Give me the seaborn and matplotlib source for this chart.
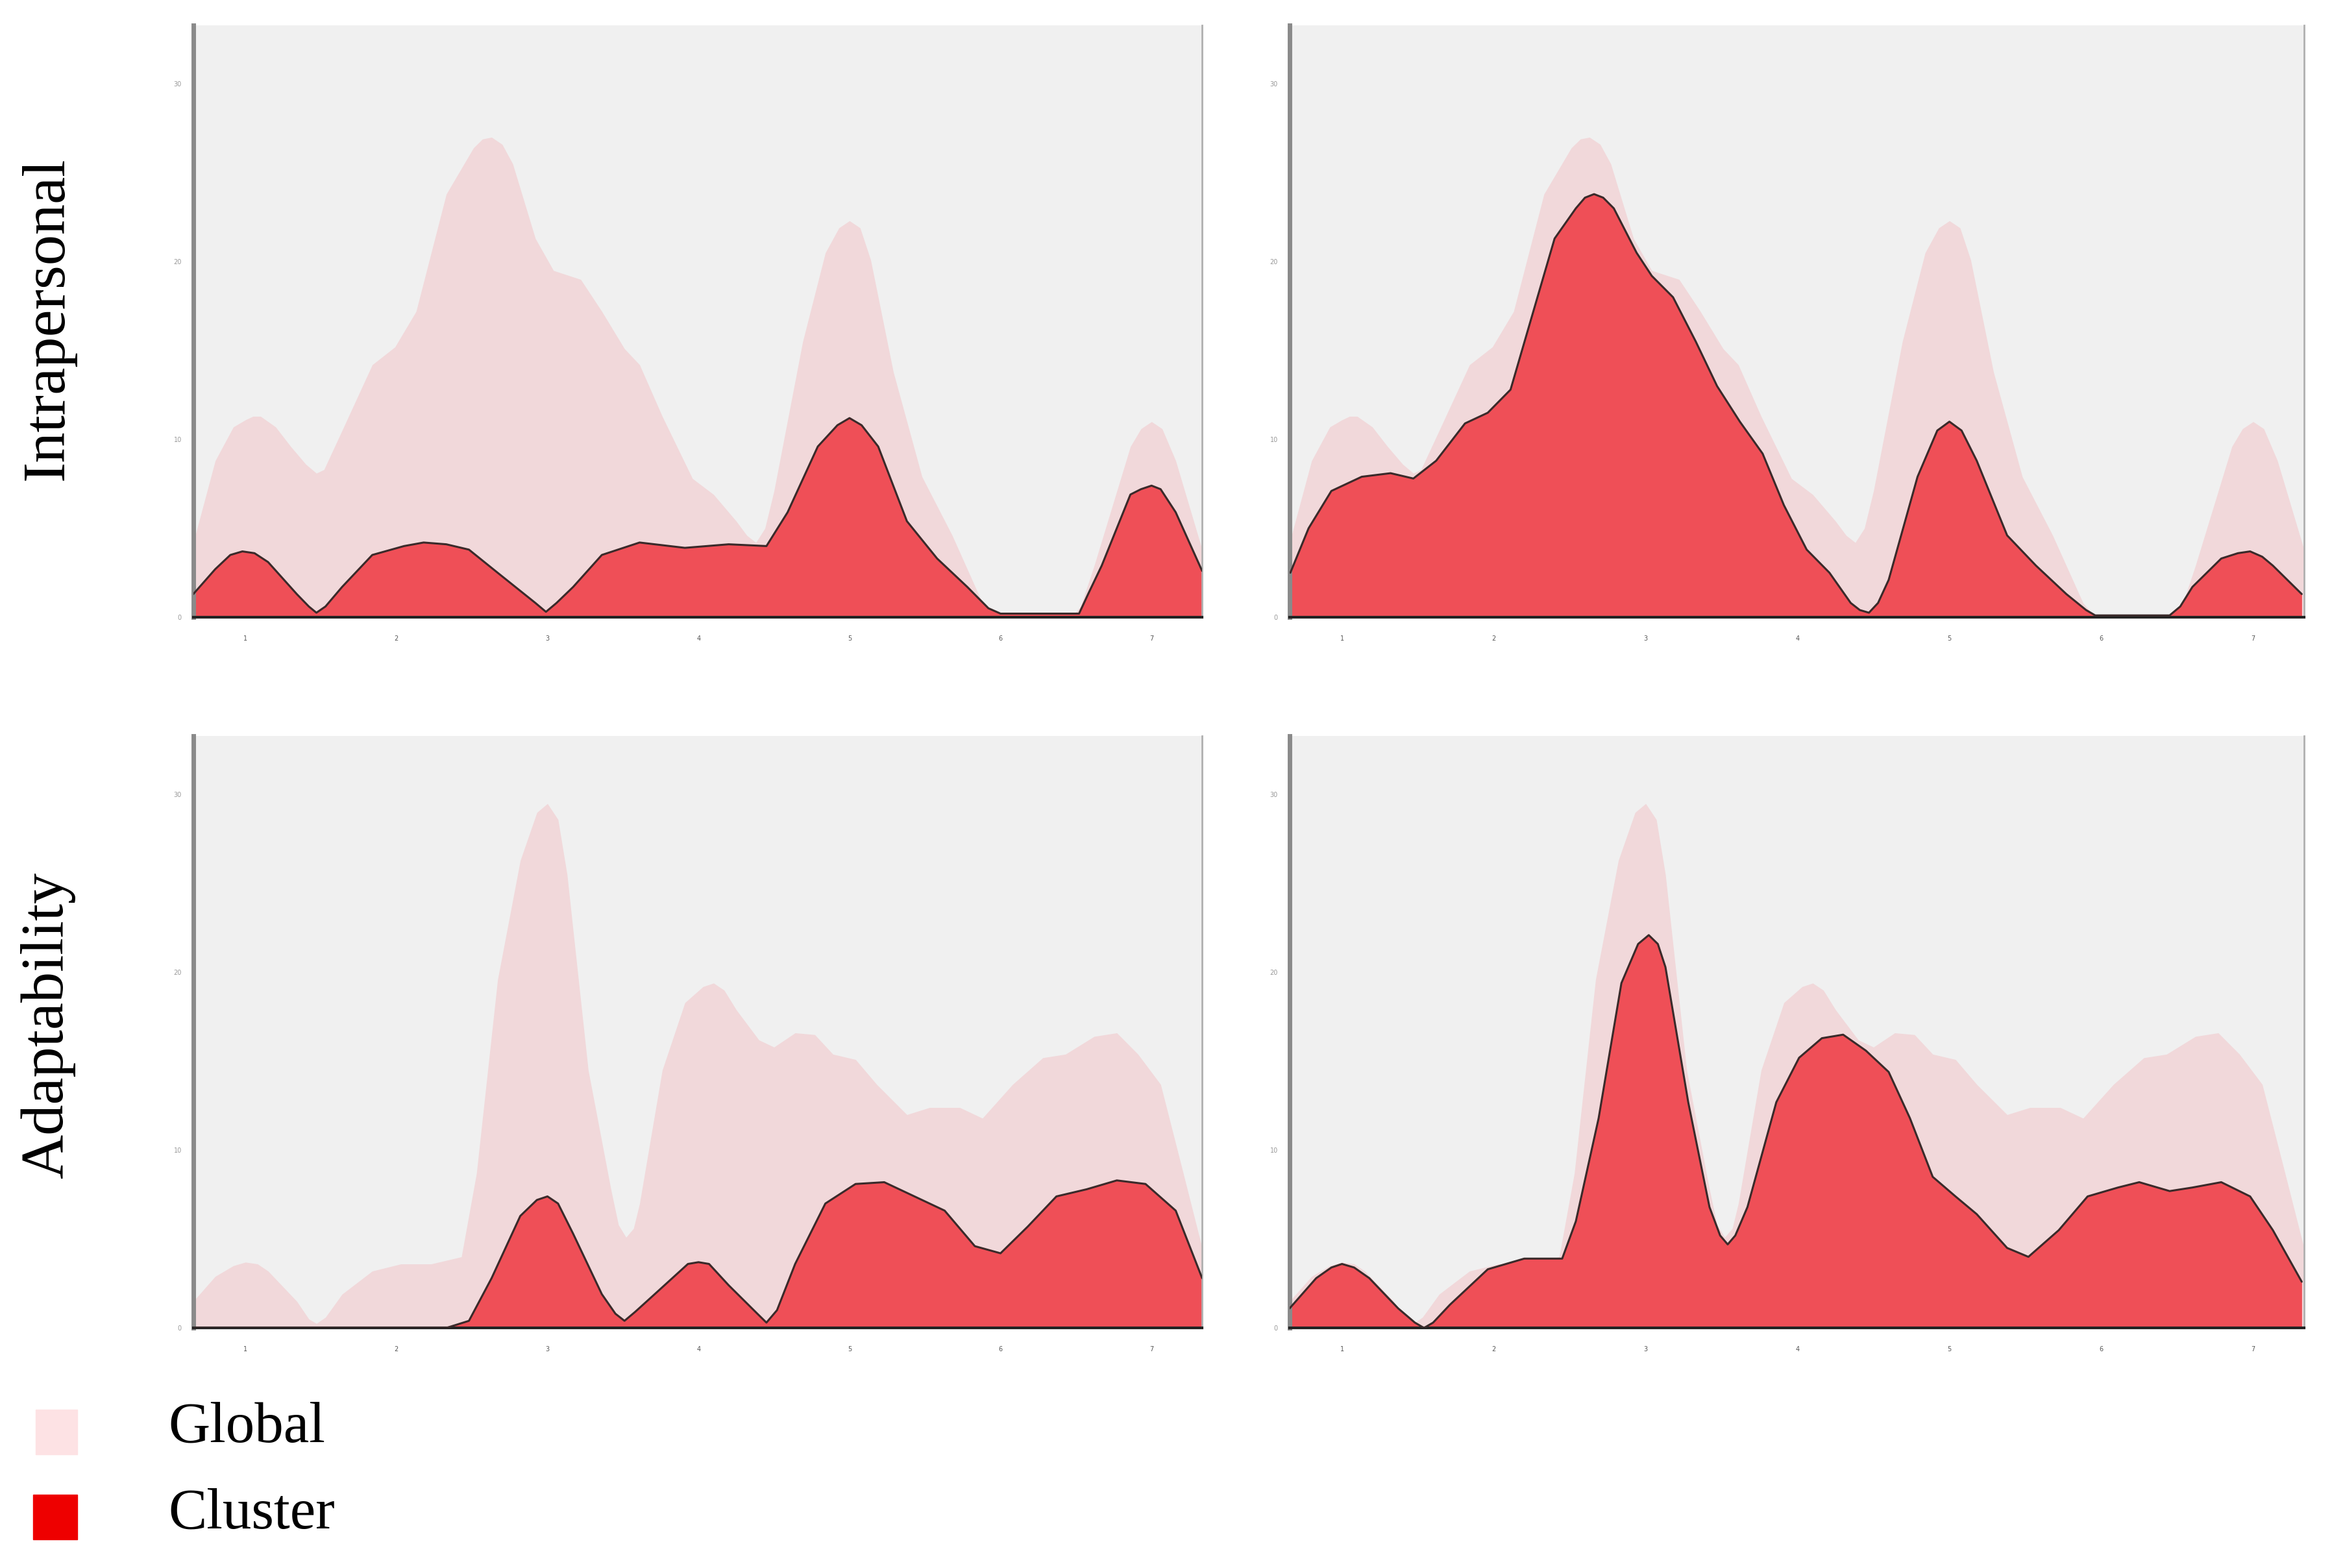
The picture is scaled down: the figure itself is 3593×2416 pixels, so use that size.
import numpy as np
import pandas as pd
import matplotlib
matplotlib.use("Agg")
import matplotlib.pyplot as plt
from matplotlib.patches import Rectangle
import seaborn as sns

sns.set_style("white")
plt.rcParams['font.family'] = ['Liberation Serif', 'DejaVu Serif']
plt.rcParams['text.color'] = 'black'

# ---- data (x = scale position, y = height) ----
row_names = ["Intrapersonal", "Adaptability"]
x_ticks = [1, 2, 3, 4, 5, 6, 7]
y_ticks = [0, 10, 20, 30]
y_tick_labels = ["0", "10", "20", "30"]

# Intrapersonal, whole sample (same in both columns)
intra_global_x = [0.655, 0.80, 0.92, 1.00, 1.05, 1.10, 1.20, 1.30, 1.40, 1.47, 1.52, 1.64, 1.84,
                  1.99, 2.13, 2.33, 2.51, 2.57, 2.63, 2.70, 2.77, 2.92, 3.04, 3.22, 3.36,
                  3.51, 3.61, 3.76, 3.96, 4.10, 4.25, 4.32, 4.38, 4.44, 4.50, 4.69, 4.84,
                  4.93, 5.00, 5.07, 5.14, 5.29, 5.48, 5.68, 5.88, 5.94, 6.00, 6.47, 6.53,
                  6.62, 6.86, 6.93, 7.00, 7.07, 7.16, 7.335]
intra_global_y = [4.2, 8.8, 10.7, 11.1, 11.3, 11.3, 10.7, 9.6, 8.6, 8.1, 8.3, 10.5, 14.2,
                  15.2, 17.2, 23.8, 26.4, 26.9, 27.0, 26.6, 25.5, 21.3, 19.5, 19.0, 17.2,
                  15.1, 14.2, 11.3, 7.8, 6.9, 5.4, 4.6, 4.2, 5.0, 7.1, 15.5, 20.5,
                  21.9, 22.3, 21.9, 20.1, 13.8, 7.9, 4.6, 0.8, 0.2, 0.0, 0.0, 0.6,
                  2.9, 9.6, 10.6, 11.0, 10.6, 8.8, 3.8]

# Intrapersonal, cluster A (left column)
intra_a_x = [0.655, 0.80, 0.90, 0.98, 1.06, 1.15, 1.34, 1.42, 1.47, 1.53, 1.64, 1.84, 2.05,
             2.18, 2.33, 2.48, 2.67, 2.92, 2.99, 3.06, 3.17, 3.36, 3.61, 3.91, 4.20,
             4.45, 4.59, 4.79, 4.92, 5.00, 5.08, 5.19, 5.38, 5.58, 5.78, 5.92, 6.00,
             6.52, 6.58, 6.67, 6.86, 6.93, 7.00, 7.06, 7.16, 7.335]
intra_a_y = [1.3, 2.7, 3.5, 3.7, 3.6, 3.1, 1.3, 0.6, 0.25, 0.6, 1.7, 3.5, 4.0,
             4.2, 4.1, 3.8, 2.5, 0.8, 0.3, 0.8, 1.7, 3.5, 4.2, 3.9, 4.1,
             4.0, 5.9, 9.6, 10.8, 11.2, 10.8, 9.6, 5.4, 3.3, 1.7, 0.5, 0.2,
             0.2, 1.3, 2.9, 6.9, 7.2, 7.4, 7.2, 5.9, 2.6]

# Intrapersonal, cluster B (right column)
intra_b_x = [0.66, 0.78, 0.93, 1.13, 1.32, 1.47, 1.62, 1.81, 1.96, 2.11, 2.26, 2.40, 2.54,
             2.60, 2.66, 2.72, 2.79, 2.94, 3.04, 3.18, 3.33, 3.47, 3.62, 3.77, 3.91,
             4.06, 4.21, 4.35, 4.41, 4.47, 4.53, 4.60, 4.79, 4.92, 5.00, 5.08, 5.18,
             5.38, 5.57, 5.77, 5.90, 5.96, 6.45, 6.52, 6.60, 6.79, 6.90, 6.98, 7.06,
             7.13, 7.32]
intra_b_y = [2.5, 5.0, 7.1, 7.9, 8.1, 7.8, 8.8, 10.9, 11.5, 12.8, 17.2, 21.3, 23.0,
             23.6, 23.8, 23.6, 23.0, 20.5, 19.2, 18.0, 15.5, 13.0, 11.0, 9.2, 6.3,
             3.8, 2.5, 0.8, 0.4, 0.25, 0.8, 2.1, 7.9, 10.5, 11.0, 10.5, 8.8,
             4.6, 2.9, 1.3, 0.4, 0.1, 0.1, 0.6, 1.7, 3.3, 3.6, 3.7, 3.4,
             2.9, 1.3]

# Adaptability, whole sample
adapt_global_x = [0.655, 0.80, 0.92, 1.00, 1.08, 1.15, 1.34, 1.42, 1.47, 1.53, 1.64, 1.84,
                  2.03, 2.23, 2.43, 2.53, 2.67, 2.82, 2.93, 3.00, 3.07, 3.13, 3.27, 3.42,
                  3.47, 3.52, 3.57, 3.61, 3.76, 3.91, 4.03, 4.10, 4.17, 4.25, 4.40, 4.50,
                  4.64, 4.77, 4.89, 5.04, 5.18, 5.38, 5.53, 5.73, 5.88, 6.08, 6.28, 6.43,
                  6.62, 6.77, 6.91, 7.06, 7.21, 7.335]
adapt_global_y = [1.5, 2.9, 3.5, 3.7, 3.6, 3.2, 1.5, 0.5, 0.25, 0.6, 1.9, 3.2,
                  3.6, 3.6, 4.0, 8.7, 19.6, 26.3, 29.0, 29.5, 28.6, 25.5, 14.5, 7.8,
                  5.8, 5.1, 5.6, 7.0, 14.5, 18.3, 19.2, 19.4, 19.0, 17.9, 16.2, 15.8,
                  16.6, 16.5, 15.4, 15.1, 13.7, 12.0, 12.4, 12.4, 11.8, 13.7, 15.2, 15.4,
                  16.4, 16.6, 15.4, 13.7, 8.7, 4.5]

# Adaptability, cluster A
adapt_a_x = [0.655, 2.33, 2.48, 2.63, 2.82, 2.93, 3.00, 3.07, 3.17, 3.36, 3.45, 3.51,
             3.58, 3.71, 3.93, 4.00, 4.07, 4.20, 4.39, 4.45, 4.52, 4.64, 4.84, 5.04,
             5.23, 5.43, 5.63, 5.83, 6.00, 6.18, 6.37, 6.57, 6.77, 6.96, 7.16, 7.335]
adapt_a_y = [0.0, 0.0, 0.4, 2.8, 6.3, 7.2, 7.4, 7.0, 5.3, 1.9, 0.8, 0.4,
             0.9, 1.9, 3.6, 3.7, 3.6, 2.4, 0.8, 0.3, 1.0, 3.6, 7.0, 8.1,
             8.2, 7.4, 6.6, 4.6, 4.2, 5.7, 7.4, 7.8, 8.3, 8.1, 6.6, 2.8]

# Adaptability, cluster B
adapt_b_x = [0.655, 0.83, 0.93, 1.00, 1.08, 1.18, 1.37, 1.48, 1.54, 1.60, 1.71, 1.96,
             2.20, 2.45, 2.54, 2.69, 2.84, 2.95, 3.02, 3.08, 3.13, 3.28, 3.42, 3.49,
             3.54, 3.59, 3.67, 3.86, 4.01, 4.16, 4.30, 4.45, 4.60, 4.74, 4.89, 5.04,
             5.18, 5.38, 5.52, 5.72, 5.91, 6.11, 6.25, 6.45, 6.60, 6.79, 6.98, 7.13,
             7.32]
adapt_b_y = [1.1, 2.8, 3.4, 3.6, 3.4, 2.8, 1.1, 0.3, 0.0, 0.3, 1.3, 3.3,
             3.9, 3.9, 6.0, 11.8, 19.4, 21.6, 22.1, 21.6, 20.3, 12.7, 6.8, 5.2,
             4.7, 5.2, 6.8, 12.7, 15.2, 16.3, 16.5, 15.6, 14.4, 11.8, 8.5, 7.4,
             6.4, 4.5, 4.0, 5.5, 7.4, 7.9, 8.2, 7.7, 7.9, 8.2, 7.4, 5.5,
             2.6]

panels = [
    [(intra_global_x, intra_global_y, intra_a_x, intra_a_y),
     (intra_global_x, intra_global_y, intra_b_x, intra_b_y)],
    [(adapt_global_x, adapt_global_y, adapt_a_x, adapt_a_y),
     (adapt_global_x, adapt_global_y, adapt_b_x, adapt_b_y)],
]

global_col = "#f1d8da"
cluster_col = "#ef4f57"
bg_col = "#f0f0f0"

fig = plt.figure(figsize=(35.93, 24.16), dpi=100)

lefts = [0.0829, 0.553]
widths = [0.4326, 0.435]
bottoms = [0.6064, 0.1531]
height = 0.3775

for r in range(2):
    for c in range(2):
        gx, gy, cx, cy = panels[r][c]
        ax = fig.add_axes([lefts[c], bottoms[r], widths[c], height])
        ax.set_facecolor(bg_col)
        ax.fill_between(gx, gy, 0, color=global_col, lw=0, zorder=1)
        ax.fill_between(cx, cy, 0, color=cluster_col, lw=0, zorder=2)
        df = pd.DataFrame({"x": cx, "y": cy})
        sns.lineplot(data=df, x="x", y="y", ax=ax, color="#3a2a2a", lw=2.2, zorder=3)
        ax.set_xlim(0.655, 7.335)
        ax.set_ylim(0, 33.3)
        ax.set_xticks(x_ticks)
        ax.set_xticklabels([str(t) for t in x_ticks], fontsize=7, color="#555555",
                           family="DejaVu Sans")
        ax.set_yticks(y_ticks)
        ax.set_yticklabels(y_tick_labels, fontsize=7, color="#999999", family="DejaVu Sans")
        ax.tick_params(axis="x", length=16, width=2, color="#333333", pad=4)
        ax.tick_params(axis="y", length=10, width=2, color="#666666", pad=3)
        ax.set_xlabel("")
        ax.set_ylabel("")
        ax.spines["top"].set_visible(False)
        ax.spines["left"].set_color("#8a8a8a")
        ax.spines["left"].set_linewidth(5)
        ax.spines["bottom"].set_color("#222222")
        ax.spines["bottom"].set_linewidth(3)
        ax.spines["right"].set_color("#b0b0b0")
        ax.spines["right"].set_linewidth(2)

# row labels
fig.text(0.0205, 0.797, row_names[0], rotation=90, fontsize=68, va="center", ha="center",
         color="black")
fig.text(0.0205, 0.346, row_names[1], rotation=90, fontsize=68, va="center", ha="center",
         color="black")

# legend
fig.patches.append(Rectangle((55 / 3593, 1 - 2241 / 2416), 64 / 3593, 69 / 2416,
                             transform=fig.transFigure, color="#fde2e4", zorder=5))
fig.patches.append(Rectangle((51 / 3593, 1 - 2372 / 2416), 68 / 3593, 69 / 2416,
                             transform=fig.transFigure, color="#ee0000", zorder=5))
fig.text(259 / 3593, 1 - 2200 / 2416, "Global", fontsize=64, va="center", ha="left",
         color="black")
fig.text(259 / 3593, 1 - 2333 / 2416, "Cluster", fontsize=64, va="center", ha="left",
         color="black")

fig.savefig("out.png", dpi=100, facecolor="white")
